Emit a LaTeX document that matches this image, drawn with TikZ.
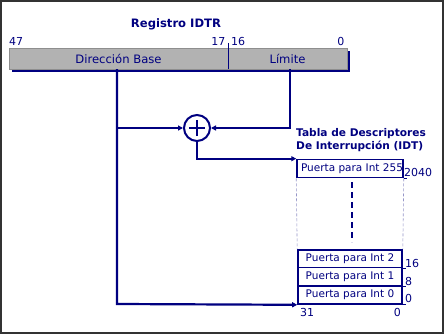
\documentclass[tikz,border=0pt]{standalone}
\usepackage{fontspec}
\setmainfont{DejaVu Sans}
\usetikzlibrary{arrows.meta}
\definecolor{navy}{RGB}{0,0,128}
\definecolor{reggray}{RGB}{178,178,178}
\definecolor{framegray}{RGB}{51,51,51}
\definecolor{ghost}{RGB}{150,150,200}
\tikzset{
  wire/.style={draw=navy, line width=2.2pt},
  tip/.style={-{Triangle[length=5pt,width=5pt]}},
  field/.style={fill=reggray, draw=reggray!80!black, line width=0.4pt, inner sep=0pt,
                minimum height=21pt, text=navy, font=\fontsize{11.6}{13}\selectfont},
  gate/.style={draw=navy, line width=1.6pt, fill=white, inner sep=0pt, minimum width=104pt,
               text=navy, font=\fontsize{10.5}{12}\selectfont},
  num/.style={text=navy, inner sep=0pt, font=\fontsize{11}{13}\selectfont},
  heading/.style={text=navy, inner sep=0pt, font=\bfseries\fontsize{11}{13}\selectfont},
}
\begin{document}
\begin{tikzpicture}[x=1pt,y=-1pt]
  \useasboundingbox (0,0) rectangle (444,334);
  \fill[white] (0,0) rectangle (444,334);
  \draw[framegray, line width=1.6pt] (0.8,0.8) rectangle (443.2,333.2);

  % IDTR register
  \node[heading, font=\bfseries\fontsize{11.6}{13}\selectfont] (regtitle) at (176,24) {Registro IDTR};
  \fill[navy] (12,51) rectangle (350,72);
  \node[field, minimum width=219pt] (base) at (118.5,58.5) {Dirección Base};
  \node[field, minimum width=119pt] (limit) at (287.5,58.5) {Límite};
  \draw[navy, line width=0.8pt] (228,43) -- (228,69);
  \node[num, anchor=base west] (b47) at (9,46) {47};
  \node[num, anchor=base east] (b17) at (225.5,46) {17};
  \node[num, anchor=base west] (b16) at (231,46) {16};
  \node[num, anchor=base east] (b0) at (344.5,46) {0};

  % adder
  \node[circle, draw=navy, line width=2pt, minimum size=26pt, inner sep=0pt] (sum) at (197,128) {};
  \draw[navy, line width=2pt] ([xshift=-8pt]sum.center) -- ([xshift=8pt]sum.center)
                              ([yshift=-8pt]sum.center) -- ([yshift=8pt]sum.center);

  % descriptor table
  \node[heading, font=\bfseries\fontsize{10.6}{13}\selectfont, anchor=west, align=left] (idttitle) at (296,140)
    {Tabla de Descriptores\\De Interrupción (IDT)};
  \node[gate, minimum height=18pt] (int255) at (350,168.5) {\hspace*{4pt}Puerta para Int 255};
  \node[gate, minimum height=17.5pt] (int2) at (350,258.75) {Puerta para Int 2};
  \node[gate, minimum height=18.5pt] (int1) at (350,276.75) {Puerta para Int 1};
  \node[gate, minimum height=18pt] (int0) at (350,295) {Puerta para Int 0};
  \draw[ghost, line width=0.6pt, dash pattern=on 3pt off 2pt]
    (int255.south west) -- (int2.north west)
    (int255.south east) -- (int2.north east);
  \draw[navy, line width=2pt, dash pattern=on 6pt off 4pt] (352,182) -- (352,242);
  \foreach \g in {int255,int2,int1,int0}
    \draw[navy, line width=1pt] (\g.south east) -- ++(3,0);
  \node[num, anchor=base west] (o2040) at (404,176) {2040};
  \node[num, anchor=base west] (o16) at (405,267) {16};
  \node[num, anchor=base west] (o8) at (405,285) {8};
  \node[num, anchor=base west] (o0) at (405,302) {0};
  \node[num, anchor=base west] (w31) at (300,316) {31};
  \node[num, anchor=base east] (w0) at (401,316) {0};

  % connections
  \coordinate (bdown) at (117,304);
  \coordinate (ldown) at (290,69);
  \draw[wire, tip] (base.south -| bdown) -- (bdown) -- (int0.south west);
  \draw[wire, tip] (bdown |- sum.west) -- (sum.west);
  \draw[wire, tip] (ldown) |- (sum.east);
  \draw[wire, tip] (sum.south) |- (int255.north west);
\end{tikzpicture}
\end{document}
